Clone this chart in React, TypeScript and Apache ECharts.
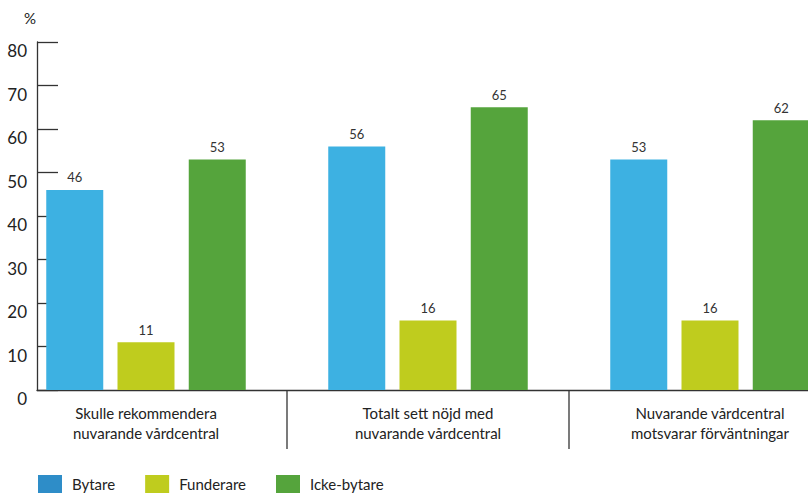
import React, { useEffect, useRef } from "react";
import * as echarts from "echarts";

const categories = [
  "Skulle rekommendera\nnuvarande vårdcentral",
  "Totalt sett nöjd med\nnuvarande vårdcentral",
  "Nuvarande vårdcentral\nmotsvarar förväntningar",
];
const seriesNames = ["Bytare", "Funderare", "Icke-bytare"];
const bytare = [46, 56, 53];
const funderare = [11, 16, 16];
const ickeBytare = [53, 65, 62];
const yTicks = { min: 0, max: 80, interval: 10 };

const colors = ["#3DB1E2", "#BFCC1E", "#55A43C"];
const legendColors = ["#2E8DC8", "#BFCC1E", "#55A43C"];
const FONT = "Lato";

export default function App() {
  const ref = useRef<HTMLDivElement>(null);
  useEffect(() => {
    if (!ref.current) return;
    const chart = echarts.init(ref.current, undefined, { renderer: "svg" });
    const values = [bytare, funderare, ickeBytare];
    const barSeries = seriesNames.map((name, i) => ({
      name,
      type: "bar",
      xAxisIndex: 0,
      yAxisIndex: 0,
      data: values[i],
      barWidth: 57,
      barGap: "25%",
      itemStyle: { color: colors[i] },
      label: {
        show: true,
        position: "top",
        distance: 6,
        color: "#333",
        fontSize: 13,
        fontFamily: FONT,
      },
      z: 3,
    }));
    chart.setOption({
      animation: false,
      textStyle: { fontFamily: FONT },
      title: {
        text: "%",
        left: 19,
        top: 5,
        textStyle: { fontSize: 15, fontWeight: "normal", color: "#222", fontFamily: FONT },
      },
      legend: {
        left: 33,
        top: 470,
        itemWidth: 24,
        itemHeight: 18,
        itemGap: 30,
        icon: "rect",
        textStyle: { fontSize: 15, color: "#222", fontFamily: FONT, padding: [0, 0, 0, 5] },
        data: seriesNames.map((n, i) => ({ name: n, itemStyle: { color: legendColors[i] } })),
      },
      grid: [
        { left: 5, top: 42, height: 348, width: 846, outerBoundsMode: "none" },
        { left: 37, top: 42, height: 348, right: 0, outerBoundsMode: "none" },
      ],
      xAxis: [
        {
          type: "category",
          gridIndex: 0,
          data: categories,
          axisLine: { show: false },
          axisTick: { show: false },
          axisLabel: {
            margin: 13,
            fontSize: 15,
            lineHeight: 20,
            color: "#222",
            fontFamily: FONT,
          },
        },
        {
          type: "value",
          gridIndex: 1,
          min: 0,
          max: 1,
          axisLine: { show: true, lineStyle: { color: "#333", width: 1.3 } },
          axisTick: { show: false },
          axisLabel: { show: false },
          splitLine: { show: false },
        },
      ],
      yAxis: [
        {
          type: "value",
          gridIndex: 0,
          min: yTicks.min,
          max: yTicks.max,
          interval: yTicks.interval,
          show: false,
        },
        {
          type: "value",
          gridIndex: 1,
          min: yTicks.min,
          max: yTicks.max,
          interval: yTicks.interval,
          axisLine: { show: true, lineStyle: { color: "#333", width: 1.3 } },
          axisTick: { show: true, inside: true, length: 21, lineStyle: { color: "#333", width: 1.3 } },
          splitLine: { show: false },
          axisLabel: {
            margin: 10,
            fontSize: 17,
            color: "#222",
            verticalAlign: "top",
            fontFamily: FONT,
          },
        },
      ],
      series: [
        ...barSeries,
        {
          type: "custom",
          xAxisIndex: 0,
          yAxisIndex: 0,
          silent: true,
          clip: false,
          data: [[0, 0], [1, 0]],
          encode: { x: 0, y: 1 },
          renderItem: (params: any, api: any) => {
            const p = api.coord([api.value(0), 0]);
            const w = api.size([1, 0])[0];
            const x = p[0] + w / 2;
            return {
              type: "line",
              shape: { x1: x, y1: p[1], x2: x, y2: p[1] + 59 },
              style: { stroke: "#333", lineWidth: 1.3 },
            };
          },
        },
      ],
    });
    return () => chart.dispose();
  }, []);
  return <div ref={ref} style={{ width: 808, height: 493, position: "absolute", left: 0, top: 0 }} />;
}
